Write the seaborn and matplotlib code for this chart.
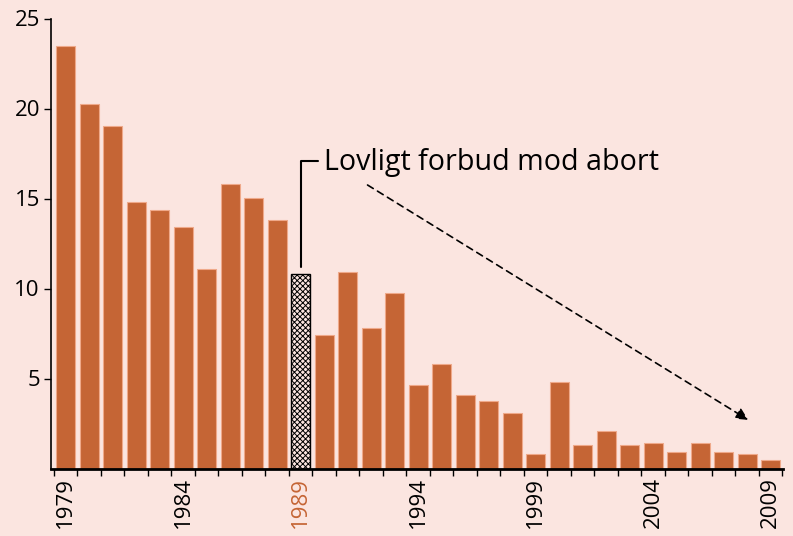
import numpy as np
import pandas as pd
import matplotlib.pyplot as plt
import seaborn as sns

# data
years = list(range(1979, 2010))
values = [23.5, 20.25, 19.05, 14.8, 14.35, 13.4, 11.1, 15.8, 15.05, 13.8,
          10.8, 7.42, 10.9, 7.8, 9.75, 4.65, 5.8, 4.1, 3.75, 3.1,
          0.82, 4.8, 1.3, 2.1, 1.3, 1.4, 0.9, 1.4, 0.9, 0.82, 0.45]
label_years = [1979, 1984, 1989, 1994, 1999, 2004, 2009]
yticks = [5, 10, 15, 20, 25]
highlight = 1989
annotation = "Lovligt forbud mod abort"

bg = "#FBE5E0"
bar_color = "#C56535"
edge_color = "#EFA98A"

sns.set_style("ticks")
plt.rcParams['font.family'] = ['Open Sans', 'DejaVu Sans']
plt.rcParams['text.color'] = 'black'
plt.rcParams['xtick.color'] = 'black'
plt.rcParams['ytick.color'] = 'black'
plt.rcParams['hatch.linewidth'] = 0.7

df = pd.DataFrame({"year": years, "value": values})

fig = plt.figure(figsize=(7.93, 5.36), dpi=100, facecolor=bg)
ax = fig.add_axes([51 / 793, (536 - 468.5) / 536, (783 - 51) / 793, (468.5 - 18.5) / 536])
ax.set_facecolor(bg)

sns.barplot(data=df, x="year", y="value", color=bar_color, saturation=1,
            width=0.81, edgecolor=edge_color, linewidth=0.8, ax=ax)

# hatched bar for 1989
hi = years.index(highlight)
p = ax.patches[hi]
p.set_facecolor(bg)
p.set_edgecolor("black")
p.set_hatch("xxxxxx")
p.set_linewidth(1.0)

ax.set_xlim(-0.62, 30.53)
ax.set_ylim(0, 25)

# x ticks: tick marks between bars, labels every five years
ax.set_xticks([years.index(y) for y in label_years])
ax.set_xticklabels([str(y) for y in label_years], rotation=90, fontsize=16)
ax.tick_params(axis="x", which="major", length=0, pad=6)
ax.set_xticks(np.arange(-0.5, 30.6, 1.0), minor=True)
ax.tick_params(axis="x", which="minor", length=5, width=1, color="black")
for lbl in ax.get_xticklabels():
    if lbl.get_text() == str(highlight):
        lbl.set_color(bar_color)

ax.set_yticks(yticks)
ax.set_yticklabels([str(t) for t in yticks], fontsize=16)
ax.tick_params(axis="y", length=5, width=1, pad=3, color="black")

ax.set_xlabel("")
ax.set_ylabel("")
sns.despine(ax=ax)
ax.spines["left"].set_linewidth(1.2)
ax.spines["left"].set_color("black")
ax.spines["bottom"].set_linewidth(2)
ax.spines["bottom"].set_color("black")

# annotation bracket and text
ax.plot([hi, hi, hi + 0.75], [11.2, 17.1, 17.1], color="black", lw=1.5,
        clip_on=False)
ax.text(hi + 1.0, 17.0, annotation, fontsize=20.6, va="center", ha="left",
        color="black")

# dashed trend arrow
ax.annotate("", xy=(29.05, 2.7), xytext=(12.85, 15.75),
            arrowprops=dict(arrowstyle="-|>", linestyle=(0, (4, 3)),
                            color="black", lw=1.2, mutation_scale=18,
                            shrinkA=0, shrinkB=0))

fig.savefig("out.png", dpi=100, facecolor=bg)
